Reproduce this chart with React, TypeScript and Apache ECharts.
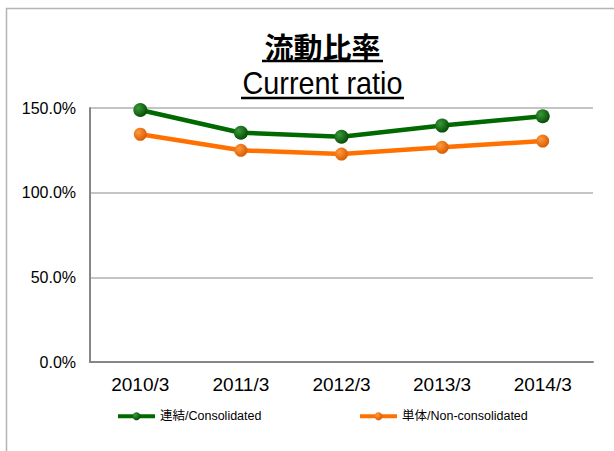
import React, { useEffect, useRef } from "react";
import * as echarts from "echarts";

const categories = ["2010/3", "2011/3", "2012/3", "2013/3", "2014/3"];
const consolidated = [148.8, 135.4, 133.0, 139.6, 145.1];
const nonConsolidated = [134.5, 125.0, 122.8, 126.8, 130.5];
const seriesNames = ["連結/Consolidated", "単体/Non-consolidated"];
const yTicks = { min: 0, max: 150, interval: 50 };

const sphere = (light: string, dark: string) => ({
  type: "radial",
  x: 0.35,
  y: 0.35,
  r: 0.75,
  colorStops: [
    { offset: 0, color: light },
    { offset: 1, color: dark },
  ],
});

export default function App() {
  const ref = useRef<HTMLDivElement>(null);
  useEffect(() => {
    document.body.style.margin = "0";
    const chart = echarts.init(ref.current!, null, { renderer: "svg" });
    const legendText = {
      fontFamily: "'Liberation Sans', 'Noto Sans CJK JP', sans-serif",
      fontSize: 12.5,
      fontWeight: "normal",
      color: "#000",
    };
    const legendCommon = {
      top: 410,
      padding: 0,
      itemWidth: 37,
      itemHeight: 10,
      itemGap: 4,
      textStyle: legendText,
      lineStyle: { width: 4 },
    };
    chart.setOption({
      animation: false,
      backgroundColor: "#fff",
      grid: { left: 90, right: 21, top: 108, bottom: 89 },
      graphic: [
        {
          type: "rect",
          shape: { x: 6.5, y: 8.5, width: 700, height: 500 },
          style: { fill: "none", stroke: "#b4b4b4", lineWidth: 1.5 },
          silent: true,
        },
        {
          type: "text",
          x: 322.5,
          y: 46,
          style: {
            text: "流動比率",
            font: "bold 29px 'Noto Sans CJK JP'",
            fill: "#000",
            align: "center",
            verticalAlign: "middle",
          },
        },
        {
          type: "line",
          shape: { x1: 262, y1: 61, x2: 383, y2: 61 },
          style: { stroke: "#000", lineWidth: 2.5 },
        },
        {
          type: "text",
          x: 322.5,
          y: 82,
          scaleX: 0.9,
          style: {
            text: "Current ratio",
            font: "32px 'Liberation Sans', sans-serif",
            fill: "#000",
            align: "center",
            verticalAlign: "middle",
          },
        },
        {
          type: "line",
          shape: { x1: 241, y1: 98, x2: 404, y2: 98 },
          style: { stroke: "#000", lineWidth: 2.5 },
        },
      ],
      legend: [
        { ...legendCommon, data: [seriesNames[0]], left: 116 },
        { ...legendCommon, data: [seriesNames[1]], left: 358 },
      ],
      xAxis: {
        type: "category",
        data: categories,
        boundaryGap: true,
        axisLine: { show: true, lineStyle: { color: "#868686", width: 2 } },
        axisTick: { show: false },
        axisLabel: {
          margin: 13,
          fontFamily: "'Liberation Sans', sans-serif",
          fontSize: 19,
          color: "#000",
        },
      },
      yAxis: {
        type: "value",
        min: yTicks.min,
        max: yTicks.max,
        interval: yTicks.interval,
        axisLine: { show: true, lineStyle: { color: "#868686", width: 2 } },
        axisTick: { show: false },
        splitLine: { lineStyle: { color: "#b0b0b0", width: 1.5 } },
        axisLabel: {
          margin: 14,
          fontFamily: "'Liberation Sans', sans-serif",
          fontSize: 16,
          color: "#000",
          formatter: (v: number) => v.toFixed(1) + "%",
        },
      },
      series: [
        {
          name: seriesNames[0],
          type: "line",
          data: consolidated,
          symbol: "circle",
          symbolSize: 14,
          lineStyle: { color: "#006a00", width: 4.5 },
          itemStyle: { color: sphere("#3a9a3a", "#004400") },
          z: 3,
        },
        {
          name: seriesNames[1],
          type: "line",
          data: nonConsolidated,
          symbol: "circle",
          symbolSize: 13,
          lineStyle: { color: "#ff7000", width: 4.5 },
          itemStyle: { color: sphere("#ff9a3a", "#d45500") },
          z: 2,
        },
      ],
    });
    return () => chart.dispose();
  }, []);
  return <div ref={ref} style={{ width: 614, height: 451 }} />;
}
